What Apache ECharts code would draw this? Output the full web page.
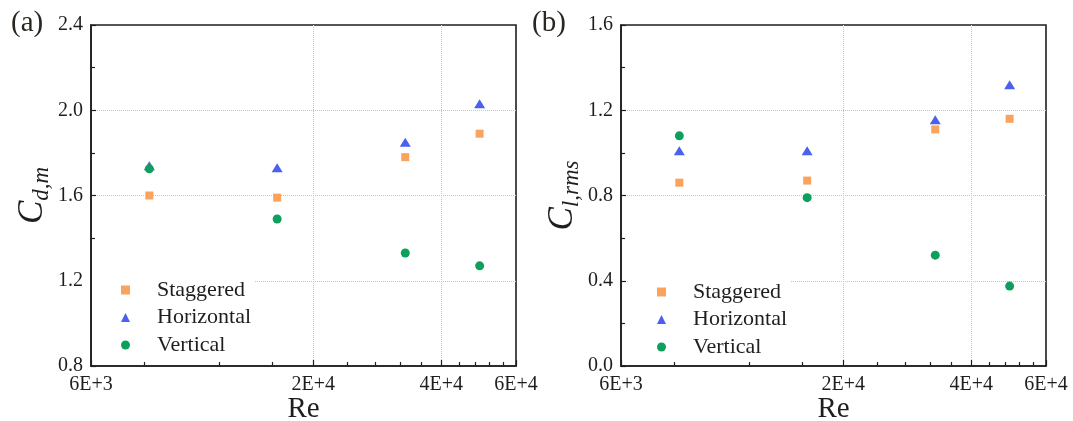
<!DOCTYPE html>
<html>
<head>
<meta charset="utf-8">
<script src="https://cdn.jsdelivr.net/npm/echarts@6/dist/echarts.min.js"></script>
<style>
html,body{margin:0;padding:0;background:#fff;}
#chart{width:1073px;height:421px;}
</style>
</head>
<body>
<div id="chart"></div>
<script>
// ---- data ----
var seriesNames = ['Staggered', 'Horizontal', 'Vertical'];
var re = [8230, 16450, 32930, 49270];
var cdStaggered  = [1.60, 1.59, 1.78, 1.89];
var cdHorizontal = [1.74, 1.73, 1.85, 2.03];
var cdVertical   = [1.725, 1.49, 1.33, 1.27];
var clStaggered  = [0.86, 0.87, 1.11, 1.16];
var clHorizontal = [1.01, 1.01, 1.155, 1.32];
var clVertical   = [1.08, 0.79, 0.52, 0.375];
var xTickValues = [6000, 20000, 40000, 60000];
var xTickLabels = ['6E+3', '2E+4', '4E+4', '6E+4'];
var xMinorTicks = [8000, 12000, 16000, 24000, 28000, 32000, 36000, 44000, 48000, 52000, 56000];
var panelLabels = ['(a)', '(b)'];

// ---- styles ----
var FONT = 'Liberation Serif';
var TXT = '#1e1e1e';
var colors = ['#FBA25C', '#4A60EE', '#0DA05C'];
var symbols = ['rect', 'triangle', 'circle'];
var symSizes = [8, [11, 9], 9];

function pairs(xs, ys) { return xs.map(function (x, i) { return [x, ys[i]]; }); }

function xLabel(v) {
  var i = xTickValues.indexOf(Math.round(v));
  return i >= 0 ? xTickLabels[i] : '';
}

function mainX(gi) {
  return {
    type: 'log', logBase: 10, gridIndex: gi, min: 6000, max: 60000, position: 'bottom',
    axisLine: { show: true, onZero: false, lineStyle: { color: TXT, width: 1.6 } },
    axisTick: { show: true, inside: true, length: 6, customValues: xTickValues, lineStyle: { color: TXT, width: 1.2 } },
    axisLabel: { show: true, customValues: xTickValues, formatter: xLabel, margin: 9, fontFamily: FONT, fontSize: 20, color: TXT },
    splitLine: { show: true, showMinLine: false, showMaxLine: false, lineStyle: { color: '#c6c6c6', type: 'dotted', width: 1 } },
    name: 'Re', nameLocation: 'middle', nameGap: 29, nameMoveOverlap: false,
    nameTextStyle: { fontFamily: FONT, fontSize: 29, color: TXT }
  };
}
function minorX(gi) {
  return {
    type: 'log', logBase: 10, gridIndex: gi, min: 6000, max: 60000, position: 'bottom',
    axisLine: { show: false },
    axisTick: { show: true, inside: true, length: 4, customValues: xMinorTicks, lineStyle: { color: TXT, width: 1.2 } },
    axisLabel: { show: false },
    splitLine: { show: false }
  };
}
function mainY(gi, min, max, sub) {
  return {
    type: 'value', gridIndex: gi, min: min, max: max, interval: 0.4,
    axisLine: { show: true, onZero: false, lineStyle: { color: TXT, width: 1.6 } },
    axisTick: { show: true, inside: true, length: 5, lineStyle: { color: TXT, width: 1.2 } },
    minorTick: { show: true, splitNumber: 2, length: 4, lineStyle: { color: TXT, width: 1.2 } },
    axisLabel: { margin: 8, fontFamily: FONT, fontSize: 20, color: TXT, formatter: function (v) { return v.toFixed(1); } },
    splitLine: { show: true, showMinLine: false, showMaxLine: false, lineStyle: { color: '#c6c6c6', type: 'dotted', width: 1 } },
    name: '{c|C}{s|' + sub + '}', nameLocation: 'middle', nameGap: 38, nameRotate: 90, nameMoveOverlap: false,
    nameTextStyle: {
      rich: {
        c: { fontFamily: FONT, fontStyle: 'italic', fontSize: 35, lineHeight: 40, color: TXT },
        s: { fontFamily: FONT, fontStyle: 'italic', fontSize: 23, lineHeight: 23, padding: [17, 0, 0, 0], color: TXT }
      }
    }
  };
}

function scatter(name, idx, xi, yi, ys) {
  return {
    type: 'scatter', name: name, xAxisIndex: xi, yAxisIndex: yi,
    symbol: symbols[idx], symbolSize: symSizes[idx],
    itemStyle: { color: colors[idx], opacity: 1 },
    data: pairs(re, ys), z: 3 + idx
  };
}

function legend(left, top) {
  return {
    orient: 'vertical', left: left, top: top,
    data: seriesNames.map(function (n, i) { return { name: n, icon: symbols[i] }; }),
    itemWidth: 9, itemHeight: 9, itemGap: 5.5,
    backgroundColor: '#ffffff',
    padding: [3, 4, 3, 29],
    textStyle: { fontFamily: FONT, fontSize: 22, lineHeight: 22, color: TXT, padding: [0, 0, 0, 22] },
    selectedMode: false
  };
}

var chart = echarts.init(document.getElementById('chart'), null, { renderer: 'canvas' });
chart.setOption({
  animation: false,
  backgroundColor: '#ffffff',
  title: [
    { text: panelLabels[0], left: 6, top: 4, textStyle: { fontFamily: FONT, fontSize: 29, fontWeight: 'normal', color: '#2a2622' } },
    { text: panelLabels[1], left: 527, top: 4, textStyle: { fontFamily: FONT, fontSize: 29, fontWeight: 'normal', color: '#2a2622' } }
  ],
  grid: [
    { left: 91, top: 25, width: 425, height: 341, outerBoundsMode: 'none', containLabel: false, show: true, borderColor: TXT, borderWidth: 1.6, backgroundColor: 'transparent' },
    { left: 621, top: 25, width: 425, height: 341, outerBoundsMode: 'none', containLabel: false, show: true, borderColor: TXT, borderWidth: 1.6, backgroundColor: 'transparent' }
  ],
  legend: [legend(92, 276), legend(628, 278)],
  xAxis: [mainX(0), minorX(0), mainX(1), minorX(1)],
  yAxis: [mainY(0, 0.8, 2.4, 'd,m'), mainY(1, 0.0, 1.6, 'l,rms')],
  series: [
    scatter(seriesNames[0], 0, 0, 0, cdStaggered),
    scatter(seriesNames[1], 1, 0, 0, cdHorizontal),
    scatter(seriesNames[2], 2, 0, 0, cdVertical),
    scatter(seriesNames[0], 0, 2, 1, clStaggered),
    scatter(seriesNames[1], 1, 2, 1, clHorizontal),
    scatter(seriesNames[2], 2, 2, 1, clVertical)
  ]
});
</script>
</body>
</html>
